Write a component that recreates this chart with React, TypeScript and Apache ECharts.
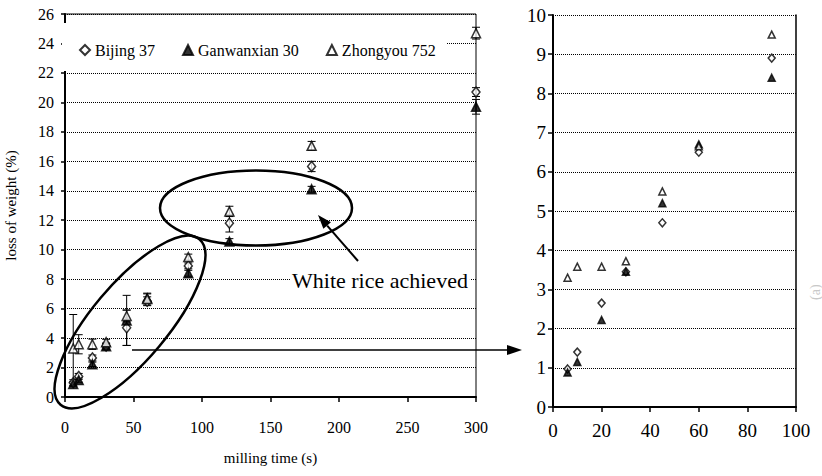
import React, { useEffect, useRef } from "react";
import * as echarts from "echarts";

const seriesNames = ["Bijing 37", "Ganwanxian 30", "Zhongyou 752"];
const millingTimes = [6, 10, 20, 30, 45, 60, 90, 120, 180, 300];
const bijing = [0.97, 1.4, 2.65, 3.45, 4.7, 6.5, 8.9, 11.8, 15.65, 20.7];
const ganwanxian = [0.88, 1.15, 2.22, 3.45, 5.2, 6.7, 8.4, 10.55, 14.1, 19.7];
const zhongyou = [3.3, 3.58, 3.58, 3.72, 5.5, 6.65, 9.5, 12.6, 17.05, 24.7];
const bijingErr = [0.2, 0.2, 0.2, 0.2, 1.2, 0.3, 0.2, 0.6, 0.35, 0.3];
const ganwanxianErr = [0.15, 0.15, 0.15, 0.2, 1.7, 0.3, 0.2, 0.2, 0.2, 0.5];
const zhongyouErr = [2.3, 0.65, 0.35, 0.2, 0.4, 0.4, 0.2, 0.35, 0.3, 0.4];
const zoomMaxTime = 90;
const leftYTicks = { min: 0, max: 26, interval: 2 };
const leftXTicks = { min: 0, max: 300, interval: 50 };
const rightYTicks = { min: 0, max: 10, interval: 1 };
const rightXTicks = { min: 0, max: 100, interval: 20 };

const FONT = "'Liberation Serif', 'Times New Roman', serif";

export default function App() {
  const ref = useRef<HTMLDivElement>(null);
  useEffect(() => {
    if (!ref.current) return;
    const chart = echarts.init(ref.current, null, { renderer: "svg" });
    const values = [bijing, ganwanxian, zhongyou];
    const errs = [bijingErr, ganwanxianErr, zhongyouErr];
    const symbols = ["diamond", "triangle", "triangle"];
    const fills = ["#fff", "#000", "#fff"];
    const leftSizes = [[8, 10], [9, 9], [9, 9]];
    const rightSizes = [[7, 8], [7, 7], [7, 7]];

    const dotted = { color: "#000", width: 1, type: [1, 1] as any };
    const axisText = (size: number) => ({ fontFamily: FONT, fontSize: size, color: "#000" });

    const series: any[] = [];
    values.forEach((vals, i) => {
      series.push({
        type: "custom",
        name: seriesNames[i] + " error",
        xAxisIndex: 0,
        yAxisIndex: 0,
        z: 2,
        clip: false,
        silent: true,
        data: millingTimes.map((t, k) => [t, vals[k], errs[i][k]]),
        encode: { x: 0, y: 1 },
        renderItem: (params: any, api: any) => {
          const x = api.value(0);
          const y = api.value(1);
          const e = api.value(2);
          const p1 = api.coord([x, y + e]);
          const p2 = api.coord([x, y - e]);
          const w = 4;
          const st = { stroke: "#000", lineWidth: 1 };
          return {
            type: "group",
            children: [
              { type: "line", shape: { x1: p1[0], y1: p1[1], x2: p2[0], y2: p2[1] }, style: st },
              { type: "line", shape: { x1: p1[0] - w, y1: p1[1], x2: p1[0] + w, y2: p1[1] }, style: st },
              { type: "line", shape: { x1: p2[0] - w, y1: p2[1], x2: p2[0] + w, y2: p2[1] }, style: st },
            ],
          };
        },
      });
      series.push({
        type: "scatter",
        name: seriesNames[i],
        xAxisIndex: 0,
        yAxisIndex: 0,
        z: 3,
        clip: false,
        symbol: symbols[i],
        symbolSize: leftSizes[i],
        itemStyle: { color: fills[i], borderColor: "#000", borderWidth: 1.5 },
        data: millingTimes.map((t, k) => [t, vals[k]]),
      });
      series.push({
        type: "scatter",
        name: seriesNames[i],
        xAxisIndex: 1,
        yAxisIndex: 1,
        z: 3,
        clip: false,
        symbol: symbols[i],
        symbolSize: rightSizes[i],
        itemStyle: { color: fills[i], borderColor: "#000", borderWidth: 1.5 },
        data: millingTimes
          .map((t, k) => [t, vals[k]])
          .filter((p) => p[0] <= zoomMaxTime),
      });
    });

    const arrowDir = [-0.656, -0.754];
    const tip = [318, 215];
    const base = [tip[0] - 14 * arrowDir[0], tip[1] - 14 * arrowDir[1]];
    const perp = [-arrowDir[1] * 5, arrowDir[0] * 5];

    chart.setOption({
      animation: false,
      backgroundColor: "#fff",
      textStyle: { fontFamily: FONT },
      legend: {
        data: seriesNames,
        left: 79,
        top: 42,
        padding: 0,
        itemWidth: 10,
        itemHeight: 10,
        itemGap: 27,
        z: 100,
        textStyle: { fontFamily: FONT, fontSize: 16, color: "#000" },
      },
      grid: [
        { left: 65, top: 14, width: 411, height: 383, show: true, borderColor: "#000", borderWidth: 1 },
        { left: 553, top: 15, width: 243, height: 392 },
      ],
      xAxis: [
        {
          type: "value",
          gridIndex: 0,
          ...leftXTicks,
          name: "milling time (s)",
          nameLocation: "middle",
          nameGap: 53,
          nameTextStyle: axisText(15),
          axisLine: { show: true, lineStyle: { color: "#000", width: 2 } },
          axisTick: { show: true, length: 5, lineStyle: { color: "#000", width: 1.5 } },
          axisLabel: { ...axisText(16), margin: 22 },
          splitLine: { show: false },
        },
        {
          type: "value",
          gridIndex: 1,
          ...rightXTicks,
          axisLine: { show: true, lineStyle: { color: "#000", width: 2 } },
          axisTick: { show: true, length: 5, lineStyle: { color: "#000", width: 1.5 } },
          axisLabel: { ...axisText(19), margin: 14 },
          splitLine: { show: false },
        },
      ],
      yAxis: [
        {
          type: "value",
          gridIndex: 0,
          ...leftYTicks,
          name: "loss of weight (%)",
          nameLocation: "middle",
          nameGap: 47,
          nameTextStyle: axisText(15),
          axisLine: { show: true, lineStyle: { color: "#000", width: 2 } },
          axisTick: { show: true, length: 4, lineStyle: { color: "#000", width: 1.5 } },
          axisLabel: { ...axisText(16), margin: 11 },
          splitLine: { show: true, lineStyle: dotted },
        },
        {
          type: "value",
          gridIndex: 1,
          ...rightYTicks,
          axisLine: { show: true, lineStyle: { color: "#000", width: 2 } },
          axisTick: { show: true, length: 5, lineStyle: { color: "#000", width: 1.5 } },
          axisLabel: { ...axisText(19), margin: 7 },
          splitLine: { show: true, lineStyle: dotted },
        },
        {
          type: "value",
          gridIndex: 1,
          position: "right",
          ...rightYTicks,
          axisLine: { show: true, lineStyle: { color: "#000", width: 1.5 } },
          axisTick: { show: false },
          axisLabel: { show: false },
          splitLine: { show: false },
        },
      ],
      graphic: [
        { type: "rect", z: 50, shape: { x: 62, y: 23, width: 384, height: 48 }, style: { fill: "#fff" } },
        {
          type: "ellipse",
          z: 60,
          x: 130,
          y: 322,
          rotation: (50 * Math.PI) / 180,
          shape: { cx: 0, cy: 0, rx: 108, ry: 38 },
          style: { fill: "none", stroke: "#000", lineWidth: 2.5 },
        },
        {
          type: "ellipse",
          z: 60,
          shape: { cx: 256, cy: 208, rx: 96, ry: 37.5 },
          style: { fill: "none", stroke: "#000", lineWidth: 2.5 },
        },
        {
          type: "text",
          z: 60,
          x: 290,
          y: 280,
          style: {
            text: "White rice achieved",
            fontFamily: FONT,
            fontSize: 22,
            fill: "#000",
            verticalAlign: "middle",
            backgroundColor: "#fff",
            padding: [0, 2],
          },
        },
        {
          type: "line",
          z: 60,
          shape: { x1: 358, y1: 261, x2: base[0], y2: base[1] },
          style: { stroke: "#000", lineWidth: 2 },
        },
        {
          type: "polygon",
          z: 60,
          shape: {
            points: [
              tip,
              [base[0] + perp[0], base[1] + perp[1]],
              [base[0] - perp[0], base[1] - perp[1]],
            ],
          },
          style: { fill: "#000" },
        },
        {
          type: "line",
          z: 60,
          shape: { x1: 132, y1: 350, x2: 508, y2: 350 },
          style: { stroke: "#000", lineWidth: 1.5 },
        },
        {
          type: "polygon",
          z: 60,
          shape: { points: [[522, 350], [507, 345], [507, 355]] },
          style: { fill: "#000" },
        },
        {
          type: "text",
          z: 60,
          x: 815,
          y: 300,
          rotation: Math.PI / 2,
          style: { text: "(a)", fontFamily: FONT, fontSize: 14, fill: "#c8c8c8", verticalAlign: "middle" },
        },
      ],
      series,
    });
    return () => chart.dispose();
  }, []);
  return (
    <div
      ref={ref}
      style={{ position: "absolute", left: 0, top: 0, width: 822, height: 476, background: "#fff" }}
    />
  );
}
